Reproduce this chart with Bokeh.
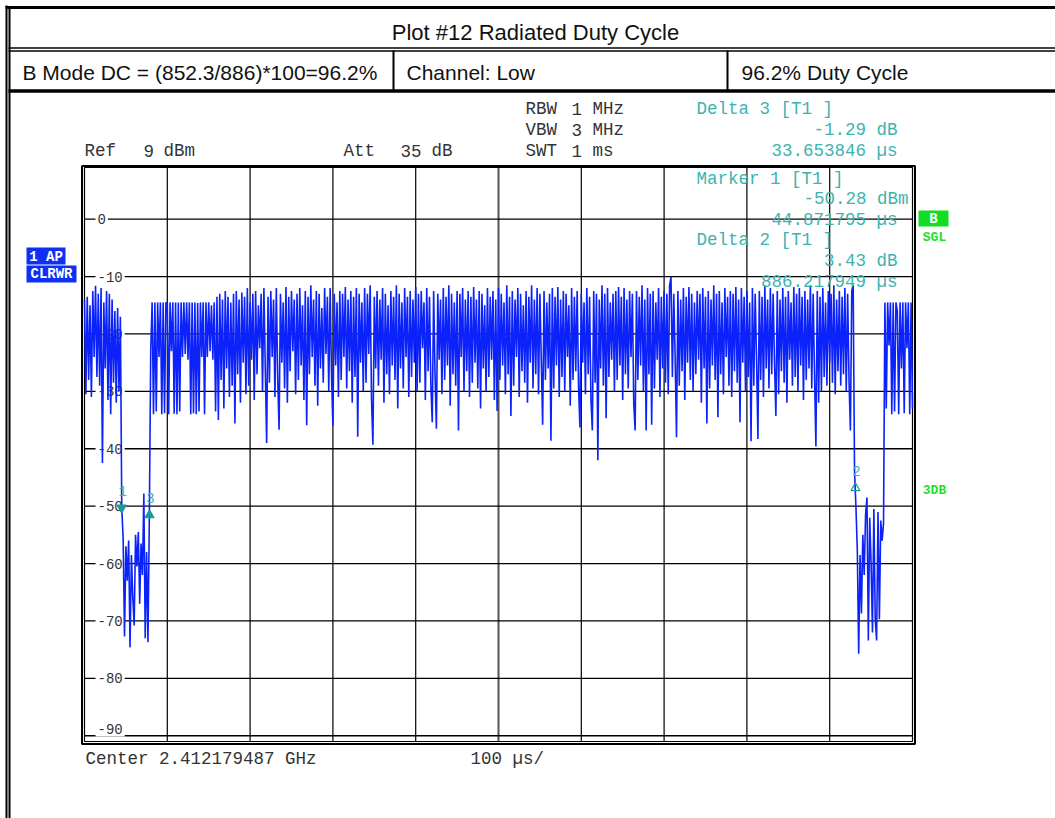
import numpy as np
from bokeh.plotting import figure
from bokeh.models import Range1d
from bokeh.core.properties import value
from bokeh.embed import file_html
from bokeh.resources import INLINE

# ---------------- data ----------------
sweep_us = 1000.0          # 100 us/div, 10 divisions
ref_level_dbm = 9.0
range_db = 100.0
trace_dbm = [
    # burst tail (0 .. 43 us)
    -14.0, -30.5, -13.5, -28.0, -15.0, -31.0, -12.5, -24.0, -11.6, -27.5,
    -13.0, -29.0, -12.0, -42.5, -14.5, -26.0, -12.5, -31.5, -13.0, -34.0,
    -14.0, -28.5, -16.0, -32.0, -15.5, -30.0, -17.0,
    # gap (marker 1 .. delta 3)
    -50.3,
    -55.5, -72.7, -57.0, -63.0, -56.0, -74.6, -58.5, -66.0, -70.8, -55.0,
    -60.5, -54.5, -67.0, -56.5, -62.0, -47.8, -73.0, -58.0, -73.7,
    -51.6,
    # burst (80 .. 928 us)
    -22.9, -14.5, -34.0, -14.5, -33.5, -14.5, -24.0, -14.5, -34.0, -14.5,
    -33.8, -14.5, -14.6, -34.0, -14.5, -23.0, -14.5, -33.9, -14.5, -34.0,
    -14.5, -33.5, -14.5, -24.0, -14.5, -23.5, -14.5, -24.5, -14.5, -34.0,
    -14.5, -33.8, -14.5, -34.0, -14.6, -33.5, -14.5, -24.0, -14.5, -34.0,
    -14.5, -24.0, -14.5, -23.0, -15.0, -24.5, -14.5, -33.5, -13.5, -35.0,
    -13.0, -28.0, -14.0, -33.0, -12.5, -26.0, -13.5, -31.0, -14.5, -29.0,
    -13.0, -35.6, -12.5, -27.0, -14.0, -32.0, -12.8, -25.0, -13.5, -30.5,
    -12.0, -29.0, -14.5, -24.5, -13.0, -31.5, -12.5, -27.0, -15.0, -22.5,
    -13.0, -30.0, -12.0, -26.0, -39.0, -13.5, -28.5, -12.5, -24.0, -14.0,
    -31.0, -12.0, -27.5, -36.7, -13.0, -25.0, -14.5, -29.5, -11.8, -32.0,
    -13.5, -26.5, -12.5, -23.0, -14.0, -30.5, -13.0, -28.0, -12.0, -25.5,
    -15.0, -31.5, -12.5, -35.9, -13.5, -27.0, -11.5, -24.0, -14.0, -29.0,
    -12.5, -32.5, -13.0, -26.0, -15.5, -28.5, -12.0, -23.5, -13.5, -30.0,
    -12.0, -27.0, -36.0, -13.0, -25.5, -14.5, -31.0, -12.5, -28.0, -13.0,
    -24.0, -11.8, -29.5, -14.0, -26.5, -12.5, -32.0, -13.5, -27.5, -12.0,
    -37.9, -13.0, -25.0, -14.5, -30.0, -12.0, -28.5, -13.0, -23.5, -11.5,
    -31.5, -39.3, -13.5, -26.0, -12.5, -29.0, -14.0, -24.5, -12.0, -32.0,
    -13.0, -27.0, -15.0, -30.5, -12.5, -25.5, -13.5, -28.0, -11.5, -33.0,
    -13.0, -26.0, -14.5, -29.5, -12.0, -24.0, -13.5, -31.0, -12.5, -27.5,
    -14.0, -25.0, -11.8, -30.0, -13.0, -28.5, -12.5, -22.5, -14.5, -31.5,
    -12.0, -26.5, -13.5, -29.0, -35.4, -12.5, -27.0, -36.5, -13.0, -24.5,
    -14.0, -30.5, -12.0, -28.0, -13.5, -25.5, -11.5, -32.5, -13.0, -27.0,
    -14.5, -29.0, -12.5, -36.8, -13.0, -24.0, -12.0, -30.0, -14.0, -26.5,
    -12.5, -31.0, -13.5, -28.5, -11.8, -25.0, -14.0, -29.5, -12.5, -33.0,
    -13.0, -26.0, -15.0, -30.0, -12.0, -27.5, -13.5, -24.5, -12.5, -31.5,
    -14.0, -33.4, -12.0, -28.0, -13.0, -25.5, -14.5, -30.5, -11.5, -27.0,
    -13.5, -34.3, -12.5, -29.0, -14.0, -24.0, -12.0, -31.0, -13.0, -26.5,
    -15.0, -28.5, -12.5, -32.0, -13.5, -25.0, -11.5, -29.5, -14.0, -27.0,
    -12.0, -30.5, -13.0, -24.5, -35.8, -12.5, -28.0, -14.5, -26.0, -13.0,
    -38.6, -12.0, -29.5, -13.5, -25.5, -11.8, -31.0, -14.0, -27.5, -12.5,
    -30.0, -13.0, -24.0, -15.0, -32.5, -12.0, -28.0, -13.5, -26.5, -12.5,
    -29.0, -36.3, -13.0, -25.0, -14.5, -30.5, -12.0, -27.0, -13.5, -31.5,
    -36.8, -12.5, -28.5, -13.0, -42.0, -14.0, -26.0, -11.5, -29.0, -13.0,
    -34.7, -12.0, -27.5, -14.5, -24.5, -13.0, -30.0, -12.5, -28.0, -11.8,
    -25.5, -13.5, -31.5, -12.0, -27.0, -14.0, -29.5, -12.5, -24.0, -13.0,
    -32.0, -36.8, -12.5, -28.0, -13.5, -25.5, -11.5, -30.0, -14.0, -36.8,
    -12.0, -27.0, -13.0, -35.8, -12.5, -29.5, -14.5, -24.5, -12.0, -31.0,
    -13.5, -26.0, -12.5, -28.5, -13.0, -30.5, -11.5, -10.1, -27.5, -13.0,
    -24.0, -38.0, -12.5, -29.0, -14.0, -26.5, -12.0, -31.5, -13.5, -25.0,
    -11.8, -28.0, -13.0, -30.0, -14.5, -27.0, -12.5, -24.5, -13.0, -32.0,
    -12.0, -26.0, -13.5, -35.6, -12.5, -29.5, -14.0, -25.5, -11.5, -28.0,
    -13.0, -34.5, -12.5, -27.0, -14.5, -30.5, -12.0, -24.0, -13.5, -29.0,
    -12.5, -31.0, -13.0, -26.5, -11.8, -28.5, -14.0, -35.4, -12.0, -25.0,
    -13.5, -30.0, -12.5, -27.5, -14.5, -38.7, -12.0, -29.0, -13.0, -24.5,
    -38.3, -12.5, -28.0, -13.5, -31.0, -11.5, -26.0, -14.0, -29.5, -12.0,
    -27.0, -13.0, -25.0, -34.3, -12.5, -30.5, -14.0, -26.5, -12.0, -28.5,
    -13.5, -32.0, -12.5, -24.5, -14.5, -29.0, -11.8, -27.5, -13.0, -30.0,
    -12.0, -25.5, -13.5, -31.5, -12.5, -28.0, -14.0, -26.0, -11.5, -29.5,
    -13.0, -27.0, -39.6, -12.5, -32.0, -13.5, -30.0, -12.0, -27.5, -14.5,
    -29.0, -12.5, -25.0, -13.0, -28.5, -11.5, -30.5, -14.0, -26.5, -12.5,
    -29.0, -13.5, -27.0, -12.0, -30.0, -13.0, -28.0, -36.8, -12.5, -11.5,
    # gap (delta 2 ..)
    -44.0, -50.0, -57.5, -75.7, -58.5, -68.7, -55.0, -62.0, -51.5, -48.5,
    -73.4, -52.0, -60.0, -72.0, -50.5, -69.7, -73.4, -51.0, -69.7, -52.5,
    -56.0, -53.0,
    # next burst
    -14.5, -33.0, -14.5, -22.0, -14.5, -34.0, -14.5, -33.5,
    -14.5, -16.0, -34.0, -14.5, -26.0, -14.5, -33.8, -14.5, -22.5, -14.5,
    -34.0, -14.5, -33.0,
]
x_grid_us = [100, 200, 300, 400, 500, 600, 700, 800, 900]
y_ticks_dbm = [0, -10, -20, -30, -40, -50, -60, -70, -80, -90]
y_tick_labels = ["0", "-10", "-20", "-30", "-40", "-50", "-60", "-70", "-80", "-90"]
marker_ids = ["1", "3", "2"]
marker_us = [44.87, 78.53, 931.09]
marker_dbm = [-50.28, -51.57, -46.85]
marker_shapes = ["inverted_triangle", "triangle", "triangle"]
marker_fill_alpha = [1.0, 1.0, 0.0]

title_text = "Plot #12 Radiated Duty Cycle"
row_texts = ["B Mode DC = (852.3/886)*100=96.2%", "Channel: Low", "96.2% Duty Cycle"]
readout_heads = ["Delta 3 [T1 ]", "Marker 1 [T1 ]", "Delta 2 [T1 ]"]
readout_vals = ["-1.29 dB", "33.653846 µs", "-50.28 dBm", "44.871795 µs", "3.43 dB", "886.217949 µs"]

# ---------------- layout ----------------
W, H = 1055, 818
OFF = 0


def X(px):
    return px - OFF


def Y(py):
    return H + OFF - py


PL, PR, PT, PB = 84.0, 912.0, 167.0, 741.0
px_per_us = (PR - PL) / sweep_us
px_per_db = (PB - PT) / range_db
t_start = -X(PL) / px_per_us
t_end = sweep_us + (W - X(PR)) / px_per_us
db_top = ref_level_dbm + (PT - OFF) / px_per_db
db_bottom = ref_level_dbm - range_db - (H + OFF - PB) / px_per_db
y_bot = ref_level_dbm - range_db

p = figure(width=W, height=H, x_range=Range1d(0, W), y_range=Range1d(0, H),
           x_axis_location=None, y_axis_location=None, toolbar_location=None,
           output_backend="svg", min_border=0, outline_line_color=None,
           background_fill_color="white", border_fill_color="white")
p.grid.visible = False
p.extra_x_ranges = {"t": Range1d(t_start, t_end)}
p.extra_y_ranges = {"dbm": Range1d(db_bottom, db_top)}

MONO = value("Liberation Mono")
SANS = value("Liberation Sans")
TEAL = "#3db3b0"
GREEN = "#22dd33"


def txt(items, font, size, color, align="left", style="normal"):
    p.text(x=[X(a) for _, a, _ in items], y=[Y(b) for _, _, b in items],
           text=[s for s, _, _ in items], text_font=font, text_font_size=size,
           text_color=color, text_align=align, text_baseline="middle",
           text_font_style=style)


def hline(py, x0, x1, w, color="black"):
    p.segment(x0=[X(x0)], y0=[Y(py)], x1=[X(x1)], y1=[Y(py)], line_color=color, line_width=w)


def vline(px, y0, y1, w, color="black"):
    p.segment(x0=[X(px)], y0=[Y(y0)], x1=[X(px)], y1=[Y(y1)], line_color=color, line_width=w)


# ---- page table frame ----
hline(7, 5, 1055, 3)
vline(6, 5, 818, 2)
vline(9, 8, 818, 2)
hline(47.5, 8, 1055, 1.6)
hline(50.5, 8, 1055, 1.6)
hline(90.5, 8, 1055, 3.5)
vline(393, 50, 90, 2)
vline(727, 50, 90, 2)

txt([(title_text, 535, 32)], SANS, "22px", "#111111", align="center")
txt([(row_texts[0], 22, 72), (row_texts[1], 406, 72), (row_texts[2], 741, 72)],
    SANS, "21px", "#111111")

# ---- spectrum grid ----
gcol = ["#555555" if v == 500 else "black" for v in x_grid_us]
gw = [2.0 if v == 500 else 1.2 for v in x_grid_us]
p.segment(x0=x_grid_us, y0=[y_bot] * len(x_grid_us), x1=x_grid_us,
          y1=[ref_level_dbm] * len(x_grid_us), x_range_name="t", y_range_name="dbm",
          line_color=gcol, line_width=gw)
p.segment(x0=[0] * len(y_ticks_dbm), y0=y_ticks_dbm, x1=[sweep_us] * len(y_ticks_dbm),
          y1=y_ticks_dbm, x_range_name="t", y_range_name="dbm",
          line_color="black", line_width=1.3)

# ---- frame ----
p.quad(left=[0], right=[sweep_us], bottom=[y_bot], top=[ref_level_dbm],
       x_range_name="t", y_range_name="dbm", fill_color=None,
       line_color="black", line_width=1.2)
p.quad(left=[X(81.5)], right=[X(914.5)], top=[Y(165.5)], bottom=[Y(743.5)],
       fill_color=None, line_color="black", line_width=2)

# ---- y tick labels inside the frame (lowest one sits just above its line) ----
label_y = [v + (1.1 if v == y_bot + 1 else 0.0) for v in y_ticks_dbm]
p.text(x=[0] * len(y_ticks_dbm), y=label_y, text=y_tick_labels,
       x_range_name="t", y_range_name="dbm", x_offset=11,
       text_font=MONO, text_font_size="14px", text_color="#333333",
       text_baseline="middle", text_align="left",
       background_fill_color="white", padding=2)

# ---- trace ----
t_us = np.arange(len(trace_dbm)) * (sweep_us / (len(trace_dbm) - 1))
p.line(t_us, trace_dbm, x_range_name="t", y_range_name="dbm",
       line_color="#0b22fa", line_width=1.6)

# ---- markers ----
p.scatter(x=marker_us, y=marker_dbm, marker=marker_shapes, size=9,
          x_range_name="t", y_range_name="dbm",
          fill_color="#169c98", fill_alpha=marker_fill_alpha,
          line_color="#169c98", line_width=1.2)
p.text(x=marker_us, y=[v + 3.0 for v in marker_dbm], text=marker_ids,
       x_range_name="t", y_range_name="dbm", x_offset=1,
       text_font=MONO, text_font_size="14px", text_color=TEAL,
       text_align="center", text_baseline="middle")

# ---- analyzer annotations ----
txt([("Ref", 84, 150), ("9", 143, 150), ("dBm", 163, 150),
     ("Att", 343, 150), ("35", 400, 150), ("dB", 431, 150),
     ("RBW", 525, 108), ("1", 571, 108), ("MHz", 592, 108),
     ("VBW", 525, 129), ("3", 571, 129), ("MHz", 592, 129),
     ("SWT", 525, 150), ("1", 571, 150), ("ms", 592, 150),
     ("Center 2.412179487 GHz", 85, 758), ("100 µs/", 470, 758)],
    MONO, "17.5px", "#333333")

txt([(readout_heads[0], 696, 108), (readout_heads[1], 696, 178), (readout_heads[2], 696, 239)],
    MONO, "17.5px", TEAL)
txt([(readout_vals[0], 897, 129), (readout_vals[1], 897, 150),
     (readout_vals[2], 908, 198), (readout_vals[3], 897, 219),
     (readout_vals[4], 897, 260), (readout_vals[5], 897, 281)],
    MONO, "17.5px", TEAL, align="right")

# status boxes
p.quad(left=[X(26), X(26)], right=[X(65), X(76)], top=[Y(247), Y(265)],
       bottom=[Y(264), Y(282)], fill_color="#0f2ff5", line_color=None)
txt([("1 AP", 45.5, 256), ("CLRWR", 51, 273.5)], MONO, "14px", "white",
    align="center", style="bold")
p.quad(left=[X(918)], right=[X(948)], top=[Y(210)], bottom=[Y(226)],
       fill_color="#11dd22", line_color=None)
txt([("B", 933, 218)], MONO, "14px", "white", align="center", style="bold")
txt([("SGL", 934, 237), ("3DB", 934, 490)], MONO, "13px", GREEN,
    align="center", style="bold")

open("out.html", "w").write(file_html(p, INLINE))
